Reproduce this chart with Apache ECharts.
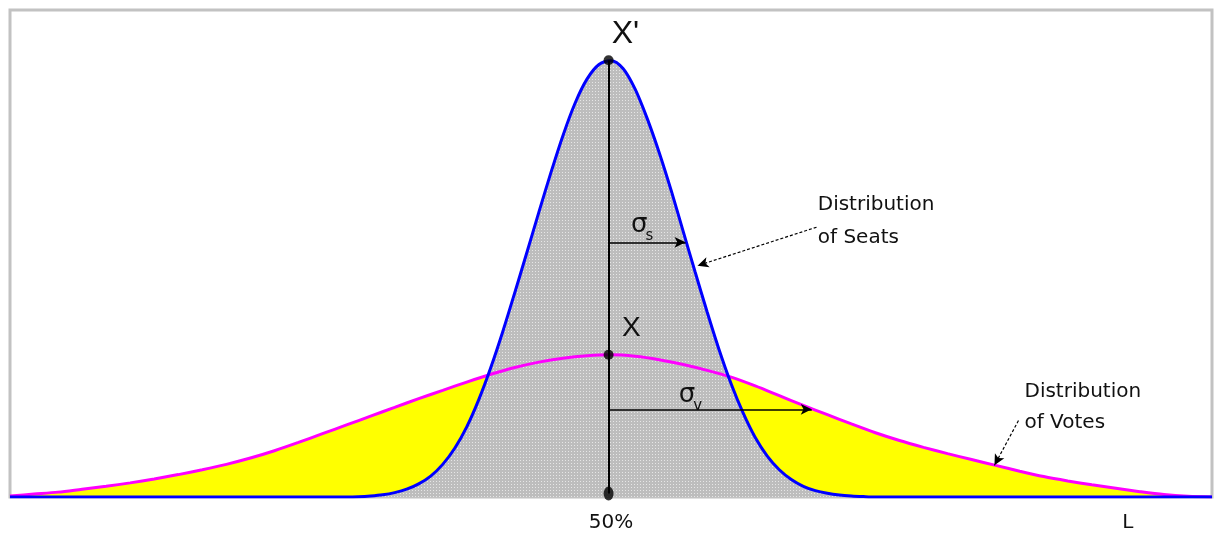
<!DOCTYPE html>
<html>
<head>
<meta charset="utf-8">
<script src="https://cdn.jsdelivr.net/npm/echarts@6/dist/echarts.min.js"></script>
<style>
html,body{margin:0;padding:0;background:#fff;}
#chart{width:1219px;height:535px;}
</style>
</head>
<body>
<div id="chart"></div>
<script>
// ---- data (x: vote share %, y: relative frequency 0-100) ----
const seatX = [0, 28, 29, 30, 31, 32, 33, 34, 35, 36, 37, 38, 39, 40, 41, 42, 43, 44, 45, 46, 47, 48, 49, 50,
  51, 52, 53, 54, 55, 56, 57, 58, 59, 60, 61, 62, 63, 64, 65, 66, 67, 68, 69, 70, 71, 72, 100];
const seatY = [0, 0, 0.05, 0.2, 0.45, 0.9, 1.6, 2.7, 4.3, 6.7, 10.0, 14.4, 20.0, 26.6, 34.0, 42.0, 50.2, 58.5, 66.6, 74.2, 80.8, 85.8, 88.8, 89.6,
  88.0, 83.8, 77.8, 70.8, 63.0, 54.6, 46.2, 38.0, 30.2, 23.2, 17.2, 12.2, 8.4, 5.6, 3.6, 2.2, 1.3, 0.75, 0.4, 0.2, 0.08, 0, 0];

const voteX = [0, 2, 4, 6, 8, 10, 12, 14, 16, 18, 20, 22, 24, 26, 28, 30, 32, 34, 36, 38, 40, 42, 44, 46, 48, 50,
  52, 54, 56, 58, 60, 62, 64, 66, 68, 70, 72, 74, 76, 78, 80, 82, 84, 86, 88, 90, 92, 94, 96, 98, 100];
const voteY = [0.2, 0.6, 1.0, 1.6, 2.2, 2.9, 3.7, 4.6, 5.6, 6.7, 8.0, 9.5, 11.2, 13.0, 14.8, 16.6, 18.4, 20.2, 21.9, 23.6, 25.2, 26.6, 27.7, 28.5, 29.0, 29.2,
  28.9, 28.2, 27.2, 26.0, 24.6, 22.8, 20.8, 18.8, 16.9, 15.0, 13.2, 11.6, 10.2, 8.9, 7.7, 6.5, 5.3, 4.2, 3.3, 2.5, 1.8, 1.1, 0.5, 0.15, 0];

const xTickValues = [50, 93];
const xTickLabels = ['50%', 'L'];

// annotation anchors (data coordinates)
const meanX = 49.8;
const seatPeak = 89.7;
const votePeak = 29.2;
const sigmaSeatLevel = 52.3, sigmaSeatEnd = 56.2;
const sigmaVoteLevel = 18.0, sigmaVoteEnd = 66.7;
const seatLeader = [[67.1, 55.4], [57.2, 47.5]];
const voteLeader = [[83.9, 15.7], [81.9, 6.5]];

const zip = (xs, ys) => xs.map((x, i) => [x, ys[i]]);
const seatData = zip(seatX, seatY);
const voteData = zip(voteX, voteY);

// dotted grey fill pattern
const pc = document.createElement('canvas');
pc.width = 3; pc.height = 3;
const pctx = pc.getContext('2d');
pctx.fillStyle = '#bdbdbd'; pctx.fillRect(0, 0, 3, 3);
pctx.fillStyle = '#e6e6e6'; pctx.fillRect(1, 1, 1, 1);

const chart = echarts.init(document.getElementById('chart'), null, {renderer: 'canvas'});
const txt = '#111';
const option = {
  animation: false,
  backgroundColor: '#ffffff',
  grid: {left: 10, right: 7, top: 10, bottom: 38, show: true, borderColor: '#c2c2c2', borderWidth: 3, backgroundColor: 'transparent'},
  xAxis: {
    type: 'value', min: 0, max: 100,
    axisLine: {show: false}, axisTick: {show: false}, splitLine: {show: false},
    axisLabel: {
      customValues: xTickValues,
      formatter: v => xTickLabels[xTickValues.indexOf(v)] || '',
      fontFamily: 'DejaVu Sans', fontSize: 20, color: txt, margin: 16
    }
  },
  yAxis: {type: 'value', min: 0, max: 100, show: false, splitLine: {show: false}},
  series: [
    {type: 'line', name: 'votesArea', data: voteData, symbol: 'none', smooth: 0.3, z: 1,
     lineStyle: {width: 0}, areaStyle: {color: '#ffff00', opacity: 1}, silent: true},
    {type: 'line', name: 'seatsArea', data: seatData, symbol: 'none', smooth: 0.3, z: 2,
     lineStyle: {width: 0}, areaStyle: {color: {image: pc, repeat: 'repeat'}, opacity: 1}, silent: true},
    {type: 'line', name: 'Distribution of Votes', data: voteData, symbol: 'none', smooth: 0.3, z: 3,
     lineStyle: {width: 3, color: '#ff00ff'}, silent: true},
    {type: 'line', name: 'Distribution of Seats', data: seatData, symbol: 'none', smooth: 0.3, z: 4,
     lineStyle: {width: 3, color: '#0000ff'}, silent: true},
    {type: 'scatter', name: 'marks', z: 6, silent: true,
     itemStyle: {color: '#000'},
     data: [
       {value: [meanX, seatPeak], symbolSize: 10},
       {value: [meanX, votePeak], symbolSize: 10},
       {value: [meanX, 0.7], symbolSize: [10, 14]}
     ],
     markLine: {
       silent: true, animation: false,
       symbol: ['none', 'arrow'], symbolSize: [8, 11],
       label: {show: false},
       lineStyle: {color: '#000', width: 1.5, type: 'solid'},
       data: [
         [{coord: [meanX, 0.7], symbol: 'none', lineStyle: {width: 2}}, {coord: [meanX, seatPeak], symbol: 'none'}],
         [{coord: [meanX, sigmaSeatLevel]}, {coord: [sigmaSeatEnd, sigmaSeatLevel]}],
         [{coord: [meanX, sigmaVoteLevel]}, {coord: [sigmaVoteEnd, sigmaVoteLevel]}],
         [{coord: seatLeader[0], lineStyle: {type: [3, 2], width: 1.2}}, {coord: seatLeader[1]}],
         [{coord: voteLeader[0], lineStyle: {type: [3, 2], width: 1.2}}, {coord: voteLeader[1]}]
       ]
     }
    }
  ]
};
chart.setOption(option);

// text annotations anchored through the axes
const P = (x, y) => chart.convertToPixel({gridIndex: 0}, [x, y]);
const labels = [
  {at: [51.2, 95.0], text: "X'", font: 'Liberation Sans', size: 32, align: 'center'},
  {at: [51.7, 34.6], text: 'X', font: 'Liberation Sans', size: 28, align: 'center'},
  {at: [67.2, 56.6], text: 'Distribution\nof Seats', font: 'DejaVu Sans', size: 20, align: 'left', lh: 33},
  {at: [84.4, 18.4], text: 'Distribution\nof Votes', font: 'DejaVu Sans', size: 20, align: 'left', lh: 31}
];
const graphics = labels.map(l => {
  const p = P(l.at[0], l.at[1]);
  return {type: 'text', x: p[0], y: p[1], z: 10, silent: true,
    style: {text: l.text, fontFamily: l.font, fontSize: l.size, fill: txt, align: l.align,
      verticalAlign: 'middle', lineHeight: l.lh || l.size}};
});
const sig = [
  {at: [52.6, 55.8], sub: 's'},
  {at: [56.6, 20.9], sub: 'v'}
];
sig.forEach(s => {
  const p = P(s.at[0], s.at[1]);
  graphics.push({type: 'text', x: p[0], y: p[1], z: 10, silent: true,
    style: {text: '{a|σ}{b|' + s.sub + '}', align: 'center', verticalAlign: 'middle', fill: txt,
      rich: {a: {fontFamily: 'DejaVu Sans', fontSize: 26, lineHeight: 28, fill: txt},
             b: {fontFamily: 'DejaVu Sans', fontSize: 15, lineHeight: 15, verticalAlign: 'bottom', padding: [0, 0, -4, -2], fill: txt}}}});
});
chart.setOption({graphic: graphics});
</script>
</body>
</html>
